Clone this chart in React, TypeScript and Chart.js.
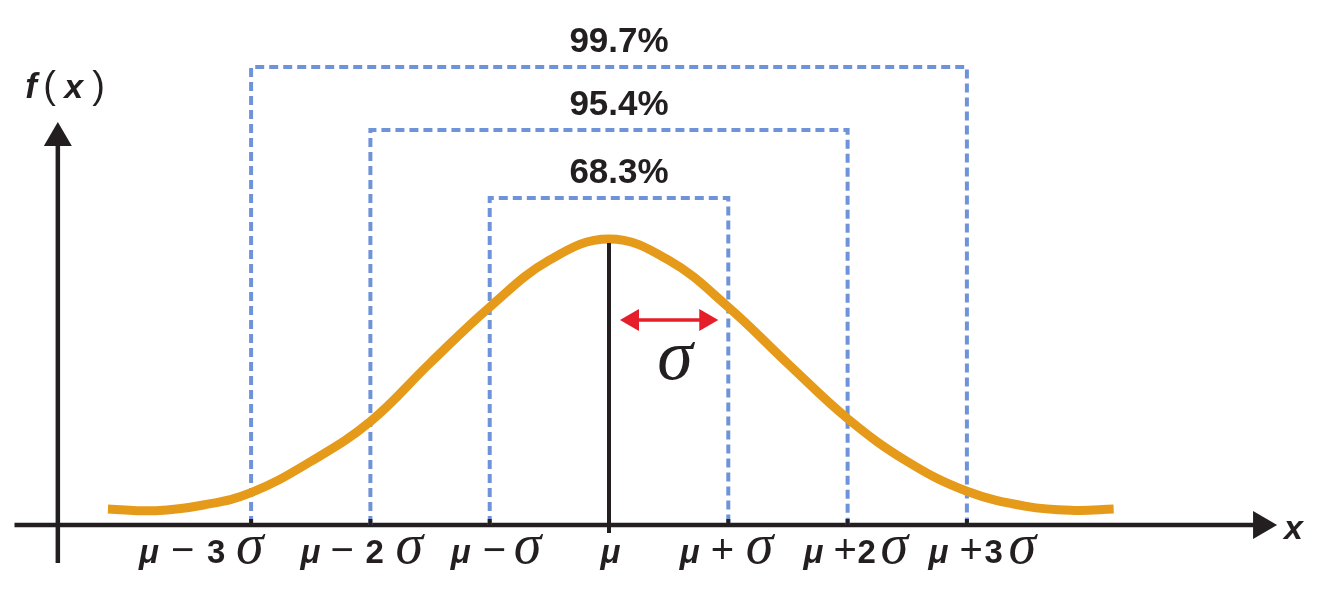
import React, { useEffect, useRef } from "react";
import { Chart, registerables } from "chart.js";
Chart.register(...registerables);

// ---- data (x in σ units from μ, y relative to the peak height) ----
const curveX = [-4.2, -3.8, -3.4, -3.0, -2.5, -2.0, -1.5, -1.0, -0.5, 0, 0.5, 1.0, 1.5, 2.0, 2.5, 3.0, 3.5, 3.9, 4.23];
const curveY = [0.056, 0.05, 0.07, 0.113, 0.222, 0.362, 0.566, 0.762, 0.926, 1.0, 0.926, 0.762, 0.564, 0.372, 0.222, 0.118, 0.065, 0.051, 0.056];

const intervalSigmas = [1, 2, 3];
const intervalPercents = ["68.3%", "95.4%", "99.7%"];
const bracketHeights = [1.143, 1.381, 1.601];

const tickValues = [-3, -2, -1, 0, 1, 2, 3];
const tickLabelParts = [
  ["μ", "−", "3", "σ"],
  ["μ", "−", "2", "σ"],
  ["μ", "−", "σ"],
  ["μ"],
  ["μ", "+", "σ"],
  ["μ", "+", "2", "σ"],
  ["μ", "+", "3", "σ"],
];

const muLine = [-0.028, 0.986];
const sigmaArrowX = [0.092, 0.916];
const sigmaArrowY = 0.717;
const sigmaSymbol = { x: 0.553, y: 0.51 };

const xRange = [-5, 5.6];
const yRange = [-0.15, 1.7];
const yAxisAt = -4.62;
const yAxisSpan = [-0.133, 1.409];

// ---- styles ----
const INK = "#231f20";
const ORANGE = "#e59a1a";
const BLUE = "#6e93d9";
const RED = "#e61e2a";
const SANS = '"Liberation Sans", Arial, sans-serif';
const SERIF = '"Liberation Serif", "Times New Roman", serif';

// per-label spacing (ink gaps between parts) and horizontal nudge of the label
const labelGaps = [[13, 14, 12], [11, 14, 13], [13, 10], [], [12, 14], [11, 3, 6], [12, 3, 7]];
const labelNudge = [-49, -8, 7, 1, -1, 9, 16];

function partFont(t: string) {
  if (t === "μ") return `italic bold 33px ${SANS}`;
  if (t === "−" || t === "+") return `normal 40px ${SANS}`;
  if (t === "σ") return `italic 56px ${SERIF}`;
  return `bold 33px ${SANS}`;
}

function drawSegments(ctx: CanvasRenderingContext2D, parts: { t: string; font: string }[], gaps: number[], cx: number, baseline: number) {
  const ms = parts.map((p) => {
    ctx.font = p.font;
    const m = ctx.measureText(p.t);
    return { l: m.actualBoundingBoxLeft, w: m.actualBoundingBoxLeft + m.actualBoundingBoxRight };
  });
  const total = ms.reduce((a, m) => a + m.w, 0) + gaps.reduce((a, g) => a + g, 0);
  let cur = cx - total / 2;
  parts.forEach((p, i) => {
    ctx.font = p.font;
    ctx.fillText(p.t, cur + ms[i].l, baseline);
    cur += ms[i].w + (gaps[i] ?? 0);
  });
}

const overlay = {
  id: "overlay",
  beforeDatasetsDraw(chart: any) {
    const ctx: CanvasRenderingContext2D = chart.ctx;
    const xs = chart.scales.x;
    const ys = chart.scales.y;
    const y0 = ys.getPixelForValue(0);
    const xL = xs.getPixelForValue(xRange[0]);
    const xTip = xs.getPixelForValue(xRange[1]);
    const ax = xs.getPixelForValue(yAxisAt);
    const yBot = ys.getPixelForValue(yAxisSpan[0]);
    const yTip = ys.getPixelForValue(yAxisSpan[1]);
    ctx.save();
    ctx.strokeStyle = INK;
    ctx.fillStyle = INK;
    ctx.lineWidth = 4.5;
    ctx.beginPath();
    ctx.moveTo(xL + 2, y0);
    ctx.lineTo(xTip - 20, y0);
    ctx.stroke();
    ctx.beginPath();
    ctx.moveTo(xTip, y0);
    ctx.lineTo(xTip - 24, y0 - 14);
    ctx.lineTo(xTip - 24, y0 + 14);
    ctx.closePath();
    ctx.fill();
    ctx.beginPath();
    ctx.moveTo(ax, yBot);
    ctx.lineTo(ax, yTip + 20);
    ctx.stroke();
    ctx.beginPath();
    ctx.moveTo(ax, yTip);
    ctx.lineTo(ax - 14, yTip + 24);
    ctx.lineTo(ax + 14, yTip + 24);
    ctx.closePath();
    ctx.fill();
    ctx.restore();
  },
  afterDatasetsDraw(chart: any) {
    const ctx: CanvasRenderingContext2D = chart.ctx;
    const xs = chart.scales.x;
    const ys = chart.scales.y;
    const y0 = ys.getPixelForValue(0);
    ctx.save();
    ctx.fillStyle = INK;
    tickValues.forEach((v) => {
      if (v === 0) return;
      const px = xs.getPixelForValue(v);
      ctx.fillRect(px - 2, y0 - 6, 4, 6);
    });
    ctx.textBaseline = "alphabetic";
    ctx.textAlign = "left";
    tickValues.forEach((v, i) => {
      const parts = tickLabelParts[i].map((t) => ({ t, font: partFont(t) }));
      drawSegments(ctx, parts, labelGaps[i], xs.getPixelForValue(v) + labelNudge[i], y0 + 38);
    });
    ctx.font = `bold 35px ${SANS}`;
    ctx.textAlign = "center";
    intervalPercents.forEach((p, i) => {
      ctx.fillText(p, xs.getPixelForValue(0) + 10, ys.getPixelForValue(bracketHeights[i]) - 15);
    });
    const ay = ys.getPixelForValue(sigmaArrowY);
    const a1 = xs.getPixelForValue(sigmaArrowX[0]);
    const a2 = xs.getPixelForValue(sigmaArrowX[1]);
    ctx.strokeStyle = RED;
    ctx.fillStyle = RED;
    ctx.lineWidth = 3.5;
    ctx.beginPath();
    ctx.moveTo(a1 + 12, ay);
    ctx.lineTo(a2 - 12, ay);
    ctx.stroke();
    ctx.beginPath();
    ctx.moveTo(a1, ay);
    ctx.lineTo(a1 + 19, ay - 11);
    ctx.lineTo(a1 + 19, ay + 11);
    ctx.closePath();
    ctx.fill();
    ctx.beginPath();
    ctx.moveTo(a2, ay);
    ctx.lineTo(a2 - 19, ay - 11);
    ctx.lineTo(a2 - 19, ay + 11);
    ctx.closePath();
    ctx.fill();
    ctx.fillStyle = INK;
    ctx.textAlign = "center";
    ctx.font = `italic 72px ${SERIF}`;
    ctx.fillText("σ", xs.getPixelForValue(sigmaSymbol.x), ys.getPixelForValue(sigmaSymbol.y));
    const ax = xs.getPixelForValue(yAxisAt);
    const yTip = ys.getPixelForValue(yAxisSpan[1]);
    ctx.textAlign = "left";
    drawSegments(
      ctx,
      [
        { t: "f", font: `italic bold 35px ${SANS}` },
        { t: "(", font: `normal 38px ${SANS}` },
        { t: "x", font: `italic bold 34px ${SANS}` },
        { t: ")", font: `normal 38px ${SANS}` },
      ],
      [5, 6, 7],
      ax + 7,
      yTip - 24
    );
    ctx.font = `italic bold 34px ${SANS}`;
    ctx.fillText("x", xs.getPixelForValue(xRange[1]) + 7, y0 + 14);
    ctx.restore();
  },
};

export default function App() {
  const ref = useRef<HTMLCanvasElement | null>(null);
  useEffect(() => {
    if (!ref.current) return;
    const U = 119.3;
    const MU = 609;
    const PEAK = 286;
    const BASE = 525;
    const bracketSets = intervalSigmas.map((k, i) => ({
      data: [
        { x: -k, y: 0 },
        { x: -k, y: bracketHeights[i] },
        { x: k, y: bracketHeights[i] },
        { x: k, y: 0 },
      ],
      borderColor: BLUE,
      borderWidth: 4,
      borderDash: [9, 5],
      pointRadius: 0,
      tension: 0,
      fill: false,
      order: 3,
    }));
    const chart = new Chart(ref.current, {
      type: "line",
      data: {
        datasets: [
          {
            data: curveX.map((x, i) => ({ x, y: curveY[i] })),
            borderColor: ORANGE,
            borderWidth: 9,
            pointRadius: 0,
            tension: 0.4,
            fill: false,
            order: 2,
          },
          ...bracketSets,
          {
            data: [
              { x: 0, y: muLine[0] },
              { x: 0, y: muLine[1] },
            ],
            borderColor: INK,
            borderWidth: 4,
            pointRadius: 0,
            fill: false,
            order: 1,
          },
        ] as any,
      },
      options: {
        animation: false,
        responsive: false,
        maintainAspectRatio: false,
        events: [],
        layout: {
          padding: {
            left: MU + xRange[0] * U,
            right: 1320 - (MU + xRange[1] * U),
            top: BASE - yRange[1] * PEAK,
            bottom: 599 - (BASE - yRange[0] * PEAK),
          },
        },
        scales: {
          x: { type: "linear", min: xRange[0], max: xRange[1], display: false },
          y: { type: "linear", min: yRange[0], max: yRange[1], display: false },
        },
        plugins: { legend: { display: false }, tooltip: { enabled: false } },
      },
      plugins: [overlay],
    });
    return () => chart.destroy();
  }, []);
  return (
    <div style={{ position: "fixed", left: 0, top: 0, width: 1320, height: 599, background: "#fff" }}>
      <canvas ref={ref} width={1320} height={599} style={{ display: "block" }} />
    </div>
  );
}
